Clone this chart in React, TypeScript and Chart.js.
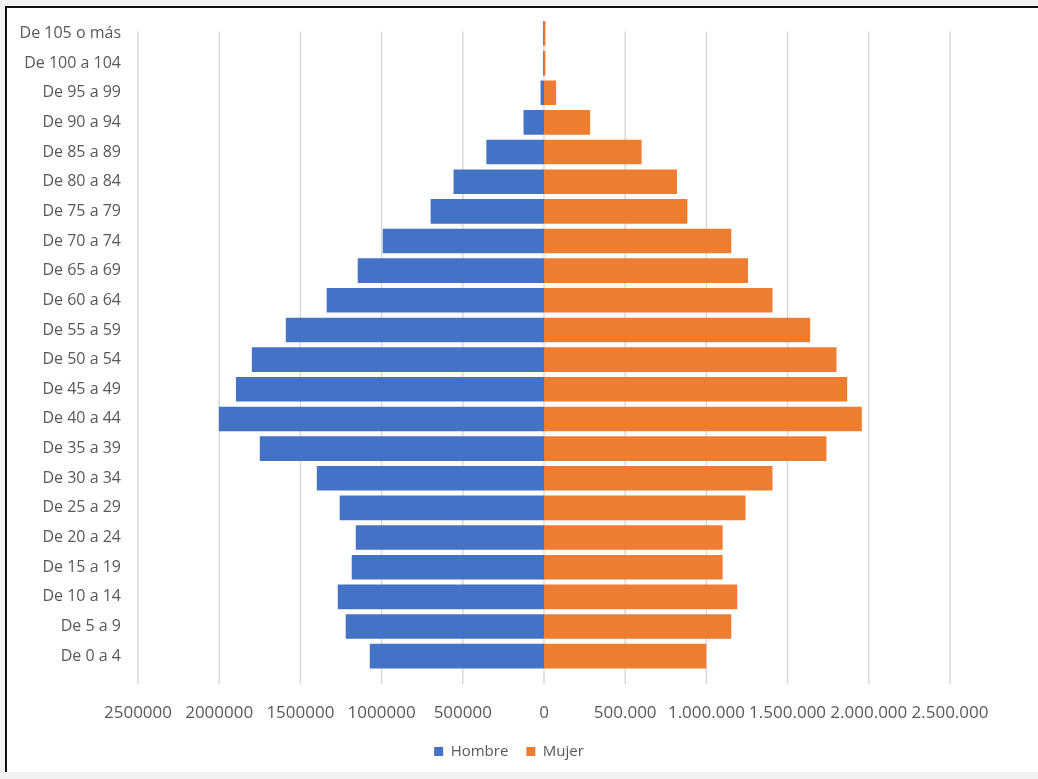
import React, { useEffect, useRef } from "react";
import { Chart, registerables } from "chart.js";

Chart.register(...registerables);

// Age groups, listed from the oldest (top row) to the youngest (bottom row)
const ageGroups: string[] = [
  "De 105 o más",
  "De 100 a 104",
  "De 95 a 99",
  "De 90 a 94",
  "De 85 a 89",
  "De 80 a 84",
  "De 75 a 79",
  "De 70 a 74",
  "De 65 a 69",
  "De 60 a 64",
  "De 55 a 59",
  "De 50 a 54",
  "De 45 a 49",
  "De 40 a 44",
  "De 35 a 39",
  "De 30 a 34",
  "De 25 a 29",
  "De 20 a 24",
  "De 15 a 19",
  "De 10 a 14",
  "De 5 a 9",
  "De 0 a 4",
];

// Population per age group
const hombres: number[] = [
  5000, 5000, 21000, 126000, 355000, 557000, 698000, 993000, 1147000, 1338000,
  1590000, 1799000, 1897000, 2002000, 1750000, 1399000, 1258000, 1159000,
  1184000, 1270000, 1221000, 1073000,
];

const mujeres: number[] = [
  9000, 9000, 75000, 284000, 601000, 819000, 883000, 1153000, 1256000, 1407000,
  1639000, 1801000, 1867000, 1957000, 1739000, 1407000, 1241000, 1100000,
  1100000, 1190000, 1153000, 999000,
];

// Horizontal axis range and tick step
const axisMin = -2500000;
const axisMax = 2500000;
const axisStep = 500000;

const TEXT = "#595959";
const BLUE = "#4472C4";
const ORANGE = "#ED7D31";
const GRID = "#d9d9d9";

function withDots(n: number): string {
  return String(n).replace(/\B(?=(\d{3})+(?!\d))/g, ".");
}

// Men's side shows plain magnitudes, women's side uses dot thousands separators
function tickText(v: number): string {
  if (v < 0) return String(-v);
  if (v === 0) return "0";
  return withDots(v);
}

// Vertical gridlines, dropped a little so they run past the last bar;
// the legend is nudged left of the plot's centre line.
const layoutPlugin = {
  id: "pyramidLayout",
  afterLayout(chart: any) {
    const lg = chart.legend;
    if (lg) {
      lg.left += 25;
      lg.right += 25;
    }
  },
  beforeDatasetsDraw(chart: any) {
    const xs = chart.scales.x;
    const area = chart.chartArea;
    const ctx = chart.ctx;
    const drop = 13;
    ctx.save();
    ctx.strokeStyle = GRID;
    ctx.lineWidth = 1.5;
    for (const t of xs.ticks) {
      const x = xs.getPixelForValue(t.value);
      ctx.beginPath();
      ctx.moveTo(x, area.top + drop);
      ctx.lineTo(x, area.bottom + drop);
      ctx.stroke();
    }
    ctx.restore();
  },
};

export default function App() {
  const canvasRef = useRef<HTMLCanvasElement | null>(null);

  useEffect(() => {
    const canvas = canvasRef.current;
    if (!canvas) return;
    const chart = new Chart(canvas, {
      type: "bar",
      data: {
        labels: ageGroups,
        datasets: [
          {
            label: "Hombre",
            data: hombres.map((v) => -v),
            backgroundColor: BLUE,
            borderWidth: 0,
            stack: "p",
          },
          {
            label: "Mujer",
            data: mujeres,
            backgroundColor: ORANGE,
            borderWidth: 0,
            stack: "p",
          },
        ],
      },
      plugins: [layoutPlugin],
      options: {
        indexAxis: "y",
        responsive: false,
        maintainAspectRatio: false,
        animation: false,
        datasets: {
          bar: { barPercentage: 0.83, categoryPercentage: 1 },
        },
        layout: { padding: { left: 10, right: 89, top: 9, bottom: 10 } },
        scales: {
          x: {
            stacked: true,
            min: axisMin,
            max: axisMax,
            border: { display: false },
            grid: { display: false, drawTicks: false, tickLength: 0 },
            ticks: {
              stepSize: axisStep,
              autoSkip: false,
              maxRotation: 0,
              padding: 32,
              color: TEXT,
              font: { family: "'Open Sans'", size: 17 },
              callback: (v: any) => tickText(Number(v)),
            },
            afterFit: (scale: any) => {
              scale.height = 55;
            },
          },
          y: {
            stacked: true,
            border: { display: false },
            grid: { display: false, drawTicks: true, tickLength: 17 },
            ticks: {
              padding: 0,
              color: TEXT,
              autoSkip: false,
              font: { family: "'Open Sans'", size: 16 },
            },
            afterFit: (scale: any) => {
              scale.width = 120;
            },
          },
        },
        plugins: {
          tooltip: { enabled: false },
          legend: {
            position: "bottom",
            labels: {
              color: TEXT,
              boxWidth: 9,
              boxHeight: 9,
              padding: 18,
              font: { family: "'Open Sans'", size: 15 },
            },
          },
        },
      },
    });
    return () => chart.destroy();
  }, []);

  return (
    <div
      style={{
        position: "fixed",
        left: 0,
        top: 0,
        width: 1038,
        height: 779,
        background: "#f2f2f2",
      }}
    >
      <div
        style={{
          position: "absolute",
          left: 5,
          top: 6,
          width: 1033,
          height: 766,
          background: "#ffffff",
          borderLeft: "2px solid #111",
          borderTop: "2px solid #111",
          boxSizing: "border-box",
        }}
      >
        <canvas
          ref={canvasRef}
          width={1031}
          height={770}
          style={{ position: "absolute", left: 1, top: 1, width: 1031, height: 770 }}
        />
      </div>
    </div>
  );
}
